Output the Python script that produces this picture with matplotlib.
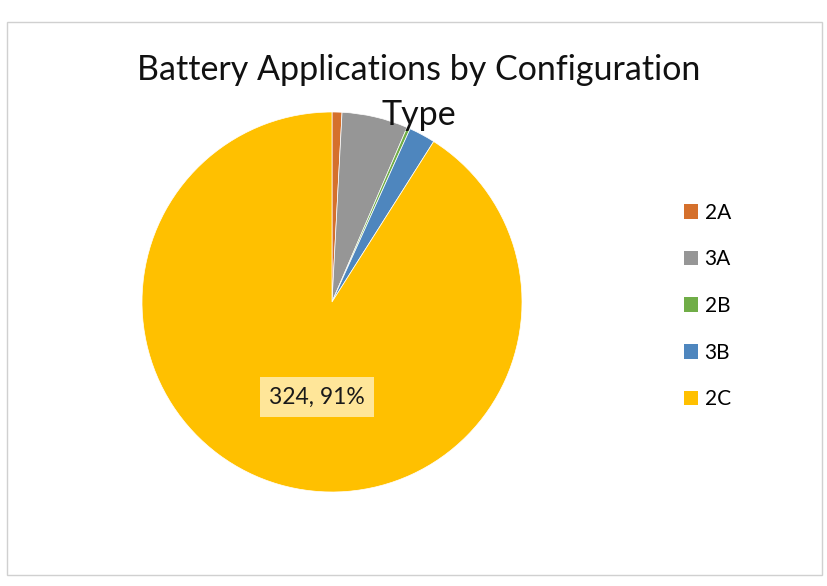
import matplotlib.pyplot as plt
from matplotlib.patches import Patch, Rectangle

# data
labels = ['2A', '3A', '2B', '3B', '2C']
counts = [3, 20, 1, 8, 324]
colors = ['#D5702C', '#969696', '#70AD47', '#4E86BE', '#FFC000']

plt.rcParams['font.family'] = ['Lato', 'DejaVu Sans']

W, H = 828, 586
fig = plt.figure(figsize=(W / 100, H / 100), dpi=100)

# chart border
fig.patches.append(Rectangle((7 / W, 1 - 575 / H), 815 / W, 553 / H,
                             transform=fig.transFigure, fill=False,
                             edgecolor='#D0D0D0', linewidth=1.0))

# pie axes, centre (332, 302) px, radius 190 px
cx, cy, r = 332, 302, 190
ax = fig.add_axes([(cx - r) / W, 1 - (cy + r) / H, 2 * r / W, 2 * r / H])
wedges, _ = ax.pie(counts, colors=colors, startangle=90, counterclock=False,
                   wedgeprops=dict(edgecolor='white', linewidth=0.5))
ax.set_xlim(-1, 1)
ax.set_ylim(-1, 1)
ax.set_aspect('equal')
ax.axis('off')

# data label on the big slice
total = sum(counts)
big = counts[-1]
ax.text(-0.08, -0.50, f'{big}, {round(100 * big / total)}%', ha='center', va='center',
        fontsize=16.5, color='#1a1a1a',
        bbox=dict(boxstyle='square,pad=0.4', facecolor='#FFE699', edgecolor='none'))

fig.text(419 / W, 1 - 54 / H, 'Battery Applications by Configuration\nType',
         ha='center', va='top', fontsize=24.5, linespacing=1.5, color='#111111',
         zorder=5)

handles = [Patch(facecolor=c, edgecolor='none') for c in colors]
fig.legend(handles, labels, loc='center left', bbox_to_anchor=(665 / W, 1 - 306 / H),
           frameon=False, fontsize=15, handlelength=0.7, handleheight=0.7,
           handletextpad=0.3, labelspacing=1.28)

fig.savefig('out.png', dpi=100)
